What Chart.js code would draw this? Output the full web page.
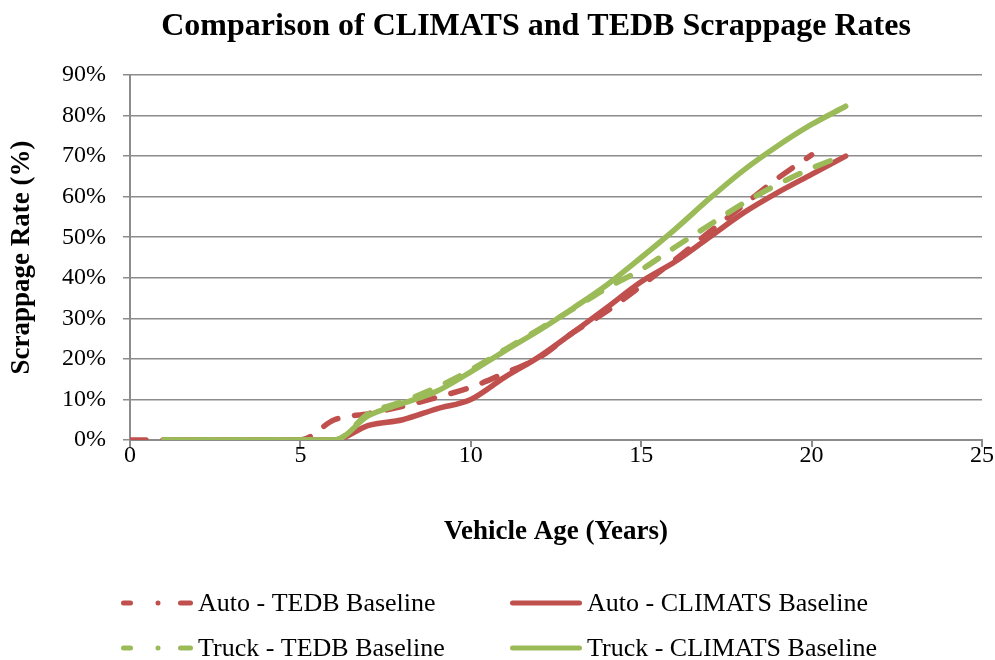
<!DOCTYPE html>
<html>
<head>
<meta charset="utf-8">
<script src="https://cdn.jsdelivr.net/npm/chart.js@4/dist/chart.umd.min.js"></script>
<style>
  html, body { margin: 0; padding: 0; background: #fff; }
  #wrap { width: 995px; height: 660px; }
</style>
</head>
<body>
<div id="wrap"><canvas id="scrapGraph"></canvas></div>
<script>
const ages = [0, 1, 2, 3, 4, 5, 6, 7, 8, 9, 10, 11, 12, 13, 14, 15, 16, 17, 18, 19, 20, 21];
const autoTedb = [0, 0, 0, 0, 0, 0, 5, 6.5, 8.3, 10.5, 13, 16.5, 20.3, 26.5, 31.8, 38, 44.5, 51.3, 57.9, 64.5, 70.3, null];
const autoClimats = [null, 0, 0, 0, 0, 0, 0, 3.6, 5, 7.7, 10, 15.5, 20.5, 26.5, 32.7, 39, 44, 50, 56, 61, 65.5, 70];
const truckTedb = [null, 0, 0, 0, 0, 0, 0, 6.5, 9.5, 13, 17.3, 22.3, 27.3, 32.3, 37.5, 42, 47.6, 53, 58.4, 63, 67, 70.3];
const truckClimats = [null, 0, 0, 0, 0, 0, 0, 6, 9, 12, 16.8, 22, 27, 32.5, 38.3, 45, 52, 59.5, 66.5, 72.5, 77.8, 82.3];
const xTicks = [0, 5, 10, 15, 20, 25];
const yTicks = [0, 10, 20, 30, 40, 50, 60, 70, 80, 90];

const chartTitle = 'Comparison of CLIMATS and TEDB Scrappage Rates';
const red = '#C0504D';
const green = '#9BBB59';
const gridGray = '#8C8C8C';
const serif = "'Liberation Serif', 'Times New Roman', serif";

const points = (vals) => ages.map((a, i) => ({ x: a, y: vals[i] }));

// title and legend drawn by hand: the title sits off-centre and the legend is a 2x2 grid
const headerLegendPlugin = {
  id: 'headerLegend',
  afterDraw(chart) {
    const ctx = chart.ctx;
    ctx.save();
    ctx.fillStyle = '#000';
    ctx.font = 'bold 32px ' + serif;
    ctx.textAlign = 'center';
    ctx.textBaseline = 'middle';
    ctx.fillText(chartTitle, 536, 27);
    ctx.restore();

    const cols = [121, 510];
    const rows = [603, 648];
    chart.data.datasets.forEach((ds, k) => {
      const x = cols[k % 2];
      const y = rows[Math.floor(k / 2)];
      ctx.save();
      ctx.strokeStyle = ds.borderColor;
      ctx.lineWidth = 5;
      ctx.lineCap = 'round';
      ctx.setLineDash(ds.borderDash.length ? [7, 27.5, 0.01, 22.5, 12] : []);
      ctx.beginPath();
      ctx.moveTo(x + 2.5, y);
      ctx.lineTo(x + 69.5, y);
      ctx.stroke();
      ctx.restore();
      ctx.save();
      ctx.fillStyle = '#000';
      ctx.font = '26px ' + serif;
      ctx.textBaseline = 'middle';
      ctx.fillText(ds.label, x + 77, y + 1);
      ctx.restore();
    });
  }
};

new Chart(document.getElementById('scrapGraph'), {
  type: 'line',
  data: {
    datasets: [
      {
        label: 'Auto - TEDB Baseline',
        data: points(autoTedb),
        borderColor: red,
        borderWidth: 5.5,
        borderDash: [16, 17],
        borderCapStyle: 'round',
        pointRadius: 0,
        cubicInterpolationMode: 'monotone',
        order: 4
      },
      {
        label: 'Auto - CLIMATS Baseline',
        data: points(autoClimats),
        borderColor: red,
        borderWidth: 5.5,
        borderDash: [],
        borderCapStyle: 'round',
        pointRadius: 0,
        cubicInterpolationMode: 'monotone',
        order: 3
      },
      {
        label: 'Truck - TEDB Baseline',
        data: points(truckTedb),
        borderColor: green,
        borderWidth: 5.5,
        borderDash: [16, 17],
        borderCapStyle: 'round',
        pointRadius: 0,
        cubicInterpolationMode: 'monotone',
        order: 2
      },
      {
        label: 'Truck - CLIMATS Baseline',
        data: points(truckClimats),
        borderColor: green,
        borderWidth: 5.5,
        borderDash: [],
        borderCapStyle: 'round',
        pointRadius: 0,
        cubicInterpolationMode: 'monotone',
        order: 1
      }
    ]
  },
  options: {
    responsive: true,
    maintainAspectRatio: false,
    animation: false,
    layout: {
      padding: { left: 0, right: 13, top: 75, bottom: 115 }
    },
    plugins: {
      legend: { display: false },
      tooltip: { enabled: false },
      title: { display: false }
    },
    scales: {
      x: {
        type: 'linear',
        min: 0,
        max: 25,
        afterFit: (axis) => { axis.height = 105; },
        afterBuildTicks: (axis) => { axis.ticks = xTicks.map(v => ({ value: v })); },
        ticks: {
          color: '#000',
          padding: -6,
          maxRotation: 0,
          font: { family: serif, size: 24 }
        },
        grid: {
          drawOnChartArea: false,
          drawTicks: true,
          tickLength: 7,
          color: gridGray,
          lineWidth: 2
        },
        border: { color: gridGray, width: 2 },
        title: {
          display: true,
          text: 'Vehicle Age (Years)',
          color: '#000',
          font: { family: serif, size: 27, weight: 'bold' },
          padding: { top: 0, bottom: -3 }
        }
      },
      y: {
        min: 0,
        max: 90,
        afterFit: (axis) => { axis.width = 130; },
        afterBuildTicks: (axis) => { axis.ticks = yTicks.map(v => ({ value: v })); },
        ticks: {
          color: '#000',
          padding: 17,
          font: { family: serif, size: 24 },
          callback: (v) => v + '%'
        },
        grid: {
          color: gridGray,
          lineWidth: 1.5,
          tickLength: 7
        },
        border: { color: gridGray, width: 2 },
        title: {
          display: true,
          text: 'Scrappage Rate (%)',
          color: '#000',
          font: { family: serif, size: 27, weight: 'bold' },
          padding: { top: 5.8, bottom: 0 }
        }
      }
    }
  },
  plugins: [headerLegendPlugin]
});
</script>
</body>
</html>
